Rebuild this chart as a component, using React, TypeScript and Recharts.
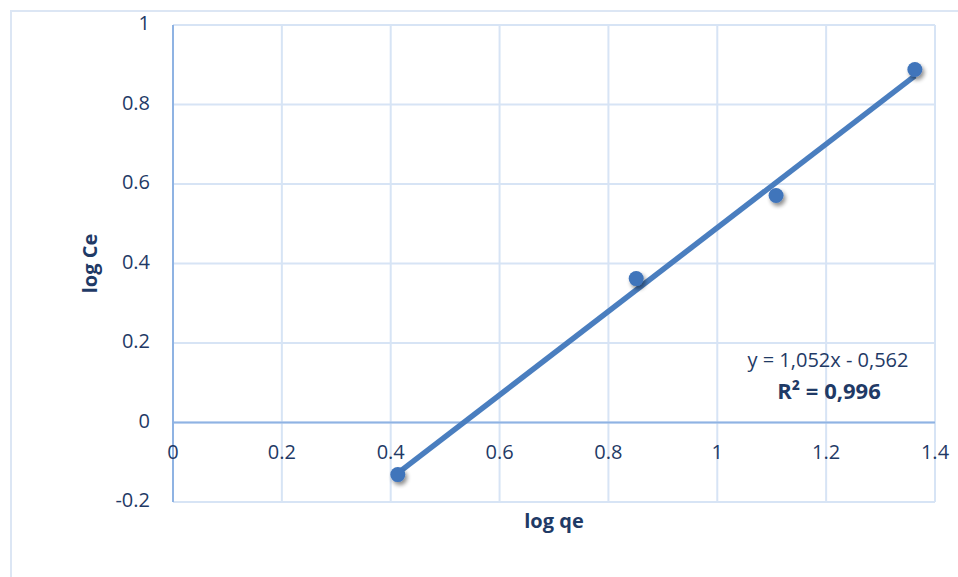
import React from "react";
import {
  ScatterChart,
  Scatter,
  XAxis,
  YAxis,
  CartesianGrid,
  ReferenceLine,
} from "recharts";

// log qe / log Ce measurements
const logQe = [0.413, 0.851, 1.108, 1.363];
const logCe = [-0.131, 0.362, 0.571, 0.888];

// linear fit shown on the chart
const slope = 1.052;
const intercept = -0.562;
const equationLabel = "y = 1,052x - 0,562";
const r2Label = "R² = 0,996";

const xTicks = [0, 0.2, 0.4, 0.6, 0.8, 1, 1.2, 1.4];
const yTicks = [-0.2, 0, 0.2, 0.4, 0.6, 0.8, 1];
const xTickLabels = ["0", "0.2", "0.4", "0.6", "0.8", "1", "1.2", "1.4"];
const yTickLabels = ["-0.2", "0", "0.2", "0.4", "0.6", "0.8", "1"];

const W = 958;
const H = 577;
const PLOT_LEFT = 173;
const PLOT_TOP = 25;
const PLOT_RIGHT = 935;
const PLOT_BOTTOM = 502;

const TEXT = "#1f3a66";
const GRID = "#d7e4f5";
const AXIS = "#8fb3e3";
const SERIES = "#4a7ebf";
const FONT = "'Open Sans', sans-serif";

const points = logQe.map((x, i) => ({ x, y: logCe[i] }));
const trend = [
  { x: logQe[0], y: slope * logQe[0] + intercept },
  { x: logQe[logQe.length - 1], y: slope * logQe[logQe.length - 1] + intercept },
];

// y pixel of the zero line, where the x tick labels sit
const zeroY =
  PLOT_TOP + ((PLOT_BOTTOM - PLOT_TOP) * (yTicks[yTicks.length - 1] - 0)) /
    (yTicks[yTicks.length - 1] - yTicks[0]);

const XTick = (props: any) => {
  const i = xTicks.indexOf(props.payload.value);
  return (
    <text
      x={props.x}
      y={zeroY + 31}
      textAnchor="middle"
      dominantBaseline="middle"
      fill={TEXT}
      fontSize={20}
      fontFamily={FONT}
    >
      {xTickLabels[i]}
    </text>
  );
};

const YTick = (props: any) => {
  const i = yTicks.indexOf(props.payload.value);
  return (
    <text
      x={PLOT_LEFT - 23}
      y={props.y}
      textAnchor="end"
      dominantBaseline="middle"
      fill={TEXT}
      fontSize={20}
      fontFamily={FONT}
    >
      {yTickLabels[i]}
    </text>
  );
};

const Marker = (props: any) => (
  <g>
    <defs>
      <filter id="mkShadow" x="-100%" y="-100%" width="300%" height="300%">
        <feGaussianBlur in="SourceAlpha" stdDeviation="2.2" />
        <feOffset dx="2" dy="3" result="b" />
        <feComponentTransfer>
          <feFuncA type="linear" slope="0.45" />
        </feComponentTransfer>
        <feMerge>
          <feMergeNode />
          <feMergeNode in="SourceGraphic" />
        </feMerge>
      </filter>
    </defs>
    <circle
      cx={props.cx}
      cy={props.cy}
      r={7.5}
      fill="#3f74bb"
      filter="url(#mkShadow)"
    />
  </g>
);

export default function App() {
  return (
    <div
      style={{
        position: "absolute",
        left: 0,
        top: 0,
        width: W,
        height: H,
        overflow: "hidden",
        background: "#fff",
      }}
    >
      <div
        style={{
          position: "absolute",
          left: 10,
          top: 10,
          width: W,
          height: H,
          borderLeft: "2px solid #dce6f4",
          borderTop: "2px solid #dce6f4",
        }}
      />
      <div style={{ position: "absolute", left: 0, top: 0 }}>
        <ScatterChart
          width={W}
          height={H}
          margin={{ top: PLOT_TOP, right: W - PLOT_RIGHT, left: 0, bottom: 0 }}
        >
          <CartesianGrid stroke={GRID} strokeWidth={2} />
          <XAxis
            type="number"
            dataKey="x"
            domain={[0, 1.4]}
            ticks={xTicks}
            height={H - PLOT_BOTTOM}
            axisLine={false}
            tickLine={false}
            tick={<XTick />}
            interval={0}
          />
          <YAxis
            type="number"
            dataKey="y"
            domain={[-0.2, 1]}
            ticks={yTicks}
            width={PLOT_LEFT}
            axisLine={{ stroke: AXIS, strokeWidth: 2 }}
            tickLine={false}
            tick={<YTick />}
            interval={0}
          />
          <ReferenceLine y={0} stroke={AXIS} strokeWidth={2} />
          <ReferenceLine
            segment={trend}
            stroke={SERIES}
            strokeWidth={5.5}
            ifOverflow="visible"
          />
          <Scatter
            data={points}
            shape={<Marker />}
            isAnimationActive={false}
          />
        </ScatterChart>
      </div>
      <svg
        width={W}
        height={H}
        style={{ position: "absolute", left: 0, top: 0, pointerEvents: "none" }}
        fontFamily={FONT}
        fill={TEXT}
      >
        <text
          x={(PLOT_LEFT + PLOT_RIGHT) / 2}
          y={523}
          textAnchor="middle"
          dominantBaseline="middle"
          fontSize={20}
          fontWeight="bold"
        >
          log qe
        </text>
        <text
          transform={`translate(92, ${(PLOT_TOP + PLOT_BOTTOM) / 2}) rotate(-90)`}
          textAnchor="middle"
          dominantBaseline="middle"
          fontSize={20}
          fontWeight="bold"
        >
          log Ce
        </text>
        <text x={828} y={362} textAnchor="middle" dominantBaseline="middle" fontSize={20}>
          {equationLabel}
        </text>
        <text
          x={829}
          y={393}
          textAnchor="middle"
          dominantBaseline="middle"
          fontSize={22}
          fontWeight="bold"
        >
          {r2Label}
        </text>
      </svg>
    </div>
  );
}
